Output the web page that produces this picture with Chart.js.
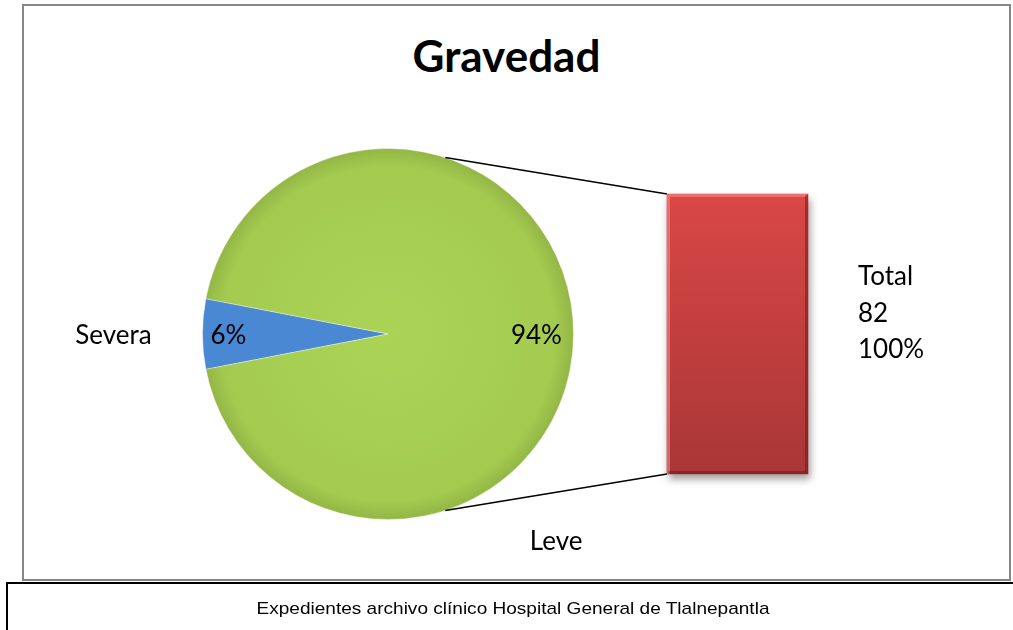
<!DOCTYPE html>
<html lang="es">
<head>
<meta charset="UTF-8">
<title>Gravedad</title>
<script src="https://cdn.jsdelivr.net/npm/chart.js"></script>
<style>
    body {
        margin: 0;
        width: 1013px;
        height: 630px;
        position: relative;
        overflow: hidden;
        background: #fff;
    }
    .frame {
        position: absolute;
        left: 22px;
        top: 4px;
        width: 985px;
        height: 573px;
        border: 2px solid #878787;
    }
    .title {
        position: absolute;
        left: 0;
        top: 28px;
        width: 1013px;
        text-align: center;
        font: bold 44px Lato, sans-serif;
        line-height: 54px;
    }
    #pieCanvas { position: absolute; left: 0; top: 0; }
    #barCanvas { position: absolute; left: 600px; top: 150px; }
    .footer {
        position: absolute;
        left: 6px;
        top: 582px;
        width: 1010px;
        height: 60px;
        border-top: 2px solid #000;
        border-left: 2px solid #000;
    }
    .footer p {
        margin: 15px 0 0 0;
        text-align: center;
        font: 17px "Liberation Sans", Arial, sans-serif;
        transform: scaleX(1.12);
    }
</style>
</head>
<body>
    <div class="frame"></div>
    <div class="title">Gravedad</div>
    <canvas id="pieCanvas" width="1013" height="630"></canvas>
    <canvas id="barCanvas" width="400" height="380"></canvas>
    <div class="footer"><p>Expedientes archivo clínico Hospital General de Tlalnepantla</p></div>

<script>
// data
const categories = ['Severa', 'Leve'];
const counts = [5, 77];
const total = 82;
const barCategories = ['Total'];
const barValues = [82];
const barPercents = ['100%'];

const pct = v => Math.round(v / total * 100) + '%';

// centre the small slice on the left side
const severaSpan = counts[0] / total * 360;
const rotation = 270 - severaSpan / 2;

const labelFont = '26px Lato, sans-serif';

// bar chart (drawn first so the pie plugin can read its position)
const barCtx = document.getElementById('barCanvas').getContext('2d');

const barExtras = {
    id: 'barExtras',
    beforeDatasetsDraw(chart) {
        const ctx = chart.ctx;
        ctx.save();
        ctx.shadowColor = 'rgba(0,0,0,0.4)';
        ctx.shadowBlur = 8;
        ctx.shadowOffsetX = 2;
        ctx.shadowOffsetY = 5;
    },
    afterDatasetsDraw(chart) {
        chart.ctx.restore();
        const ctx = chart.ctx;
        const bar = chart.getDatasetMeta(0).data[0];
        const left = bar.x - bar.width / 2, right = bar.x + bar.width / 2;
        ctx.save();
        // soft bevel on the edges
        ctx.lineWidth = 3;
        ctx.strokeStyle = 'rgba(255,140,140,0.55)';
        ctx.beginPath();
        ctx.moveTo(left + 1.5, bar.base); ctx.lineTo(left + 1.5, bar.y + 1.5); ctx.lineTo(right - 1.5, bar.y + 1.5);
        ctx.stroke();
        ctx.strokeStyle = 'rgba(90,20,20,0.45)';
        ctx.beginPath();
        ctx.moveTo(right - 1.5, bar.y + 1.5); ctx.lineTo(right - 1.5, bar.base - 1.5); ctx.lineTo(left + 1.5, bar.base - 1.5);
        ctx.stroke();

        ctx.font = labelFont;
        ctx.fillStyle = '#000';
        ctx.textBaseline = 'middle';
        const x = right + 50;
        const yMid = (bar.y + bar.base) / 2;
        ctx.fillText(barCategories[0], x, yMid - 57);
        ctx.fillText(String(barValues[0]), x, yMid - 20);
        ctx.fillText(barPercents[0], x, yMid + 16);
        ctx.restore();
    }
};

const barChart = new Chart(barCtx, {
    type: 'bar',
    data: {
        labels: barCategories,
        datasets: [{
            data: barValues,
            backgroundColor: (c) => {
                const area = c.chart.chartArea;
                if (!area) return '#c84040';
                const g = c.chart.ctx.createLinearGradient(0, area.top, 0, area.bottom);
                g.addColorStop(0, '#da4747');
                g.addColorStop(1, '#a93636');
                return g;
            },
            borderWidth: 0,
            barPercentage: 1,
            categoryPercentage: 1,
            clip: false
        }]
    },
    options: {
        responsive: false,
        animation: false,
        layout: { padding: { left: 67, right: 192, top: 44, bottom: 56 } },
        plugins: { legend: { display: false }, tooltip: { enabled: false } },
        scales: {
            x: { display: false },
            y: { display: false, min: 0, max: 82 }
        }
    },
    plugins: [barExtras]
});

// pie chart with labels and connectors
const pieCtx = document.getElementById('pieCanvas').getContext('2d');

const pieExtras = {
    id: 'pieExtras',
    afterDatasetsDraw(chart) {
        const ctx = chart.ctx;
        const arcs = chart.getDatasetMeta(0).data;
        const cx = arcs[0].x, cy = arcs[0].y, r = arcs[0].outerRadius;

        // connector lines to the bar
        const bar = barChart.getDatasetMeta(0).data[0];
        const bx = 600 + bar.x - bar.width / 2;
        const topY = 150 + bar.y;
        const botY = 150 + bar.base;
        const a = 72 * Math.PI / 180;
        ctx.save();
        ctx.strokeStyle = '#000';
        ctx.lineWidth = 1.6;
        ctx.beginPath();
        ctx.moveTo(cx + r * Math.cos(-a), cy + r * Math.sin(-a));
        ctx.lineTo(bx, topY);
        ctx.moveTo(cx + r * Math.cos(a), cy + r * Math.sin(a));
        ctx.lineTo(bx, botY);
        ctx.stroke();

        // labels
        ctx.font = labelFont;
        ctx.fillStyle = '#000';
        ctx.textAlign = 'center';
        ctx.textBaseline = 'middle';
        const inner = [0.86, 0.8];
        arcs.forEach((arc, i) => {
            const mid = (arc.startAngle + arc.endAngle) / 2;
            ctx.fillText(pct(counts[i]), cx + Math.cos(mid) * r * inner[i], cy + Math.sin(mid) * r * inner[i] + 2);
        });
        // category names outside the pie
        const sMid = (arcs[0].startAngle + arcs[0].endAngle) / 2;
        ctx.fillText(categories[0], cx + Math.cos(sMid) * r * 1.48, cy + Math.sin(sMid) * r * 1.48 + 2);
        const lAng = 51 * Math.PI / 180;
        ctx.fillText(categories[1], cx + Math.cos(lAng) * r * 1.44, cy + Math.sin(lAng) * r * 1.44);
        ctx.restore();
    }
};

function sliceFill(c, stops) {
    const chart = c.chart;
    const arc = chart.getDatasetMeta(0).data[0];
    if (!arc || !arc.outerRadius) return stops[1];
    const g = chart.ctx.createRadialGradient(arc.x, arc.y, 0, arc.x, arc.y, arc.outerRadius);
    g.addColorStop(0, stops[0]);
    g.addColorStop(0.9, stops[1]);
    g.addColorStop(1, stops[2]);
    return g;
}

new Chart(pieCtx, {
    type: 'pie',
    data: {
        labels: categories,
        datasets: [{
            data: counts,
            backgroundColor: (c) => c.dataIndex === 0
                ? sliceFill(c, ['#5fa0e6', '#4a88d4', '#3b70b6'])
                : sliceFill(c, ['#abd457', '#a4cb50', '#93b645']),
            borderColor: 'rgba(255,255,255,0.35)',
            borderWidth: 1
        }]
    },
    options: {
        responsive: false,
        animation: false,
        rotation: rotation,
        layout: { padding: { left: 202, right: 439, top: 148, bottom: 110 } },
        plugins: { legend: { display: false }, tooltip: { enabled: false } }
    },
    plugins: [pieExtras]
});
</script>
</body>
</html>
